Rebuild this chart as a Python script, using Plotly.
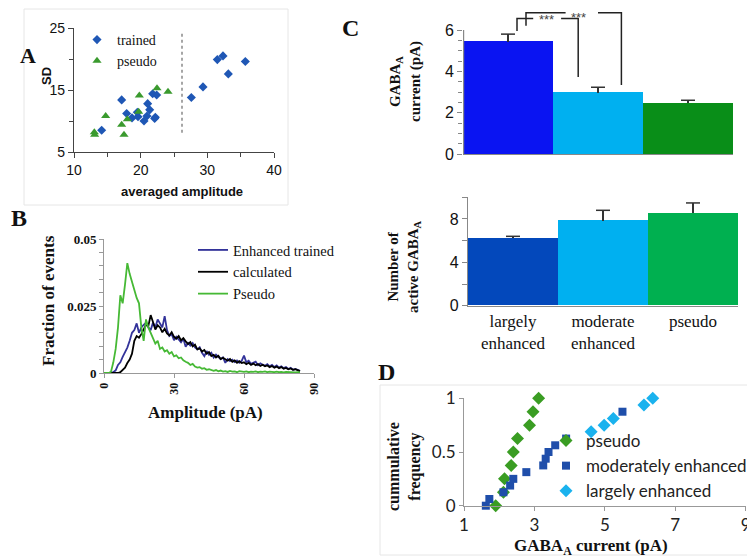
import plotly.graph_objects as go

W, H = 755, 560
PAGE_OFFSET = 8  # the page body adds an 8px margin around the figure


def fx(p):
    # reference pixel column -> paper x
    return (p - PAGE_OFFSET) / W


def fy(p):
    # reference pixel row -> paper y
    return 1 - (p - PAGE_OFFSET) / H


SERIF = "Liberation Serif"
ARIAL = "Liberation Sans"
CALIBRI = "Lato"

# ---- panel A: SD vs averaged amplitude ----
trained_amp = [14.15, 17.15, 17.9, 18.7, 19.5, 19.6, 20.5, 21.05, 20.95, 21.35,
               21.8, 22.4, 22.2, 22.1, 27.6, 29.35, 31.5, 32.35, 33.15, 35.7]
trained_sd = [8.5, 13.4, 11.2, 10.5, 11.4, 10.7, 10.0, 12.8, 10.8, 11.8,
              14.4, 14.2, 10.6, 10.4, 13.8, 15.5, 19.9, 20.5, 17.6, 19.6]
pseudo_amp = [13.05, 13.1, 14.75, 17.15, 17.5, 18.0, 19.8, 19.7, 22.45, 24.1]
pseudo_sd = [8.2, 7.8, 10.8, 9.4, 7.8, 10.3, 14.1, 11.5, 15.3, 14.7]
cutoff_amp = 26.2
cutoff_sd = [8.1, 24.5]

# ---- panel B: amplitude histograms (1 pA bins) ----
amplitude = list(range(85))
enhanced_trained = [0, 0, 0, 0, 0.0003, 0.001, 0.003, 0.004, 0.006, 0.0075,
                    0.0095, 0.012, 0.015, 0.016, 0.0185, 0.015, 0.017, 0.018, 0.0188, 0.017,
                    0.016, 0.0188, 0.017, 0.020, 0.0185, 0.017, 0.0212, 0.016, 0.0138, 0.0145,
                    0.0122, 0.0135, 0.0125, 0.0115, 0.0128, 0.0098, 0.0112, 0.0102, 0.0112, 0.0095,
                    0.0088, 0.0096, 0.0075, 0.0063, 0.0082, 0.0068, 0.0076, 0.0058, 0.0069, 0.0062,
                    0.0052, 0.0058, 0.0038, 0.0052, 0.0044, 0.0050, 0.0041, 0.0047, 0.0038, 0.0045,
                    0.0065, 0.0040, 0.0046, 0.0034, 0.0038, 0.0042, 0.0029, 0.0036, 0.0031, 0.0027,
                    0.0033, 0.0025, 0.0030, 0.0022, 0.0028, 0.0020, 0.0025, 0.0018, 0.0022, 0.0015,
                    0.0019, 0.0012, 0.0015, 0.0010, 0.0008]
calculated = [0, 0, 0, 0, 0, 0, 0, 0.0003, 0.001, 0.002,
              0.0037, 0.005, 0.0072, 0.012, 0.0138, 0.0132, 0.0145, 0.016, 0.018, 0.0175,
              0.0216, 0.019, 0.0162, 0.0178, 0.0170, 0.0152, 0.0165, 0.0148, 0.0140, 0.0152,
              0.0135, 0.0128, 0.0138, 0.0122, 0.0130, 0.0118, 0.0108, 0.0115, 0.0099, 0.0106,
              0.0088, 0.0092, 0.0080, 0.0086, 0.0072, 0.0078, 0.0063, 0.0068, 0.0058, 0.0064,
              0.0052, 0.0057, 0.0050, 0.0046, 0.0052, 0.0042, 0.0047, 0.0038, 0.0044, 0.0037,
              0.0040, 0.0033, 0.0038, 0.0030, 0.0035, 0.0029, 0.0033, 0.0026, 0.0031, 0.0025,
              0.0028, 0.0022, 0.0026, 0.0020, 0.0024, 0.0018, 0.0022, 0.0016, 0.0019, 0.0014,
              0.0017, 0.0012, 0.0014, 0.0009, 0.0007]
pseudo_hist = [0, 0, 0, 0.0005, 0.004, 0.009, 0.017, 0.029, 0.026, 0.033,
               0.041, 0.037, 0.034, 0.031, 0.028, 0.026, 0.017, 0.012, 0.020, 0.017,
               0.015, 0.013, 0.011, 0.012, 0.009, 0.0095, 0.008, 0.0085, 0.0072, 0.0078,
               0.0062, 0.0066, 0.0055, 0.0058, 0.0047, 0.0042, 0.0038, 0.003, 0.0034, 0.0024,
               0.002, 0.0022, 0.0016, 0.0018, 0.0012, 0.0014, 0.001, 0.0008, 0.0011, 0.0006,
               0.0009, 0.0005, 0.0007, 0.0004, 0.0008, 0.0005, 0.0006, 0.0003, 0.0007, 0.0005,
               0.0004, 0.0006, 0.0003, 0.0005, 0.0004, 0.0006, 0.0003, 0.0005, 0.0004, 0.0006,
               0.0003, 0.0005, 0.0004, 0.0003, 0.0005, 0.0003, 0.0004, 0.0002, 0.0004, 0.0003,
               0.0002, 0.0003, 0.0002, 0.0003, 0.0002]

# ---- panel C: bars ----
groups = ["largely<br>enhanced", "moderate<br>enhanced", "pseudo"]
group_pos = [0, 1, 2]
current_mean = [5.43, 2.97, 2.47]
current_err = [0.37, 0.26, 0.13]
active_mean = [6.24, 7.84, 8.55]
active_err = [0.16, 0.96, 0.93]
current_colors = ["#0a14f2", "#00b0f0", "#098e18"]
active_colors = ["#0348bb", "#00b0f0", "#00b050"]

# significance brackets (bar units / pA)
inner_left_x = [0.1, 0.1, 0.28]
inner_left_y = [5.95, 6.56, 6.56]
inner_right_x = [0.59, 0.78, 0.78]
inner_right_y = [6.56, 6.56, 3.73]
inner_star = (0.43, 6.52)
outer_left_x = [0.2, 0.2, 0.64]
outer_left_y = [6.2, 6.84, 6.84]
outer_right_x = [1.0, 1.26, 1.26]
outer_right_y = [6.84, 6.84, 3.34]
outer_star = (0.78, 7.05)

# ---- panel D: cumulative frequency ----
pseudo_cur = [1.90, 2.12, 2.15, 2.34, 2.40, 2.52, 2.86, 2.96, 3.12]
pseudo_cum = [0, 0.125, 0.25, 0.375, 0.5, 0.625, 0.75, 0.875, 1.0]
moderate_cur = [1.62, 1.72, 2.12, 2.31, 2.40, 2.77, 3.25, 3.32, 3.40, 3.59, 3.90, 5.50]
moderate_cum = [0, 0.0625, 0.125, 0.1875, 0.25, 0.3125, 0.375, 0.4375, 0.5, 0.5625, 0.625, 0.875]
large_cur = [4.61, 4.98, 5.24, 6.11, 6.36]
large_cum = [0.6875, 0.75, 0.8125, 0.9375, 1.0]

fig = go.Figure()

# A
fig.add_trace(go.Scatter(x=trained_amp, y=trained_sd, mode="markers", name="trained",
                         marker=dict(symbol="diamond", size=7, color="#1f57b5"),
                         xaxis="x", yaxis="y", legend="legend"))
fig.add_trace(go.Scatter(x=pseudo_amp, y=pseudo_sd, mode="markers", name="pseudo",
                         marker=dict(symbol="triangle-up", size=8, color="#3a9a2e"),
                         xaxis="x", yaxis="y", legend="legend"))
fig.add_trace(go.Scatter(x=[cutoff_amp, cutoff_amp], y=cutoff_sd, mode="lines",
                         line=dict(color="#777777", width=1.3, dash="dot"),
                         showlegend=False, xaxis="x", yaxis="y"))

# B
for name, vals, col in [("Enhanced trained", enhanced_trained, "#33339a"),
                        ("calculated", calculated, "#000000"),
                        ("Pseudo", pseudo_hist, "#46b935")]:
    fig.add_trace(go.Scatter(x=amplitude, y=vals, mode="lines", name=name,
                             line=dict(color=col, width=1.8),
                             xaxis="x2", yaxis="y2", legend="legend2"))


def bars_with_caps(means, errs, colors, xa, ya):
    # bar + upward-only error stem, cap drawn as a marker at mean + err
    fig.add_trace(go.Bar(x=group_pos, y=means, marker=dict(color=colors, line=dict(width=0)),
                         error_y=dict(type="data", symmetric=False, array=errs,
                                      arrayminus=[0] * len(errs), color="#333333",
                                      thickness=1.5, width=0),
                         showlegend=False, xaxis=xa, yaxis=ya))
    fig.add_trace(go.Scatter(x=group_pos, y=[m + e for m, e in zip(means, errs)], mode="markers",
                             marker=dict(symbol="line-ew", size=10,
                                         line=dict(color="#333333", width=1.5)),
                             showlegend=False, xaxis=xa, yaxis=ya, cliponaxis=False))


# C top
bars_with_caps(current_mean, current_err, current_colors, "x3", "y3")
for bx, by in [(inner_left_x, inner_left_y), (inner_right_x, inner_right_y),
               (outer_left_x, outer_left_y), (outer_right_x, outer_right_y)]:
    fig.add_trace(go.Scatter(x=bx, y=by, mode="lines", line=dict(color="#222222", width=1.5),
                             showlegend=False, xaxis="x3", yaxis="y3"))
fig.add_trace(go.Scatter(x=[-0.5, -0.5], y=[0, 6], mode="lines", line=dict(color="#888888", width=2.4),
                         showlegend=False, xaxis="x3", yaxis="y3"))

# C bottom
bars_with_caps(active_mean, active_err, active_colors, "x4", "y4")

# D
fig.add_trace(go.Scatter(x=pseudo_cur, y=pseudo_cum, mode="markers", name="pseudo",
                         marker=dict(symbol="diamond", size=10, color="#3a9d23"), cliponaxis=False,
                         xaxis="x5", yaxis="y5", legend="legend3"))
fig.add_trace(go.Scatter(x=moderate_cur, y=moderate_cum, mode="markers", name="moderately enhanced",
                         marker=dict(symbol="square", size=8, color="#1f4eaa"), cliponaxis=False,
                         xaxis="x5", yaxis="y5", legend="legend3"))
fig.add_trace(go.Scatter(x=large_cur, y=large_cum, mode="markers", name="largely enhanced",
                         marker=dict(symbol="diamond", size=10, color="#1ab2ee"), cliponaxis=False,
                         xaxis="x5", yaxis="y5", legend="legend3"))

ctop_px_per = 124 / 6
ctop_range = [0, 7.05]

ax_a = dict(showline=True, linecolor="#444444", linewidth=1.2, ticks="outside", ticklen=5,
            tickcolor="#444444", showgrid=False, zeroline=False,
            tickfont=dict(family=ARIAL, size=14, color="#111111"))

fig.update_layout(
    width=W, height=H, autosize=False,
    margin=dict(l=0, r=0, t=0, b=0, autoexpand=False),
    paper_bgcolor="white", plot_bgcolor="white",
    bargap=0,
    xaxis=dict(ax_a, domain=[fx(74), fx(274)], range=[10, 40], tickvals=[10, 20, 30, 40],
               minor=dict(dtick=5, ticks="outside", ticklen=4, tickcolor="#444444"), anchor="y"),
    yaxis=dict(ax_a, domain=[fy(152), fy(28)], range=[5, 25], tickvals=[5, 15, 25],
               minor=dict(dtick=5, ticks="outside", ticklen=4, tickcolor="#444444"), anchor="x"),
    xaxis2=dict(domain=[fx(104), fx(314)], range=[0, 90], tickvals=[0, 30, 60, 90], tickangle=-90,
                showline=True, linecolor="#999999", linewidth=1, ticks="outside", ticklen=4,
                tickcolor="#999999", showgrid=False, zeroline=False, anchor="y2",
                tickfont=dict(family=SERIF, size=12, weight="bold", color="#111111")),
    yaxis2=dict(domain=[fy(373), fy(239)], range=[0, 0.05], tickvals=[0, 0.025, 0.05],
                ticktext=["0", "0.025", "0.05"],
                showline=True, linecolor="#999999", linewidth=1, ticks="outside", ticklen=4,
                tickcolor="#999999", showgrid=False, zeroline=False, anchor="x2",
                minor=dict(dtick=0.005, ticks="outside", ticklen=4, tickcolor="#999999"),
                tickfont=dict(family=SERIF, size=13, weight="bold", color="#111111")),
    xaxis3=dict(domain=[fx(463), fx(733)], range=[-0.5, 2.5], showticklabels=False,
                showline=True, linecolor="#888888", linewidth=1.2, ticks="", showgrid=False,
                zeroline=False, anchor="y3"),
    yaxis3=dict(domain=[fy(154), min(1.0, fy(154 - ctop_range[1] * ctop_px_per))], range=ctop_range,
                tickvals=[0, 2, 4, 6], showline=False, ticks="outside", ticklen=5,
                tickcolor="#888888", showgrid=False, zeroline=False, anchor="x3",
                minor=dict(tickvals=[0.5, 1, 1.5, 2.5, 3, 3.5, 4.5, 5, 5.5], ticks="outside",
                           ticklen=4, tickcolor="#888888"),
                tickfont=dict(family=ARIAL, size=16, color="#111111")),
    xaxis4=dict(domain=[fx(468), fx(738)], range=[-0.5, 2.5], tickvals=group_pos, ticktext=groups,
                showline=True, linecolor="#888888", linewidth=1.2, ticks="", showgrid=False,
                zeroline=False, anchor="y4",
                tickfont=dict(family=SERIF, size=17, color="#111111")),
    yaxis4=dict(domain=[fy(305.7), fy(197.3)], range=[0, 10], tickvals=[0, 4, 8],
                showline=True, linecolor="#888888", linewidth=1.2, ticks="outside", ticklen=5,
                tickcolor="#888888", showgrid=False, zeroline=False, anchor="x4",
                minor=dict(dtick=2, ticks="outside", ticklen=5, tickcolor="#888888"),
                tickfont=dict(family=ARIAL, size=16, color="#111111")),
    xaxis5=dict(domain=[fx(464), fx(745.7)], range=[1, 9], tickvals=[1, 3, 5, 7, 9],
                showline=True, linecolor="#999999", linewidth=1.2, ticks="outside", ticklen=4,
                tickcolor="#999999", showgrid=False, zeroline=False, anchor="y5",
                tickfont=dict(family=CALIBRI, size=17, color="#222222")),
    yaxis5=dict(domain=[fy(505.7), fy(398.3)], range=[0, 1], tickvals=[0, 0.5, 1],
                showline=True, linecolor="#999999", linewidth=1.2, ticks="outside", ticklen=4,
                tickcolor="#999999", showgrid=False, zeroline=False, anchor="x5",
                tickfont=dict(family=CALIBRI, size=17, color="#222222")),
    legend=dict(x=fx(77), y=fy(24), xanchor="left", yanchor="top", bgcolor="rgba(0,0,0,0)",
                font=dict(family=SERIF, size=14, color="#111111"), tracegroupgap=0),
    legend2=dict(x=fx(193), y=fy(234), xanchor="left", yanchor="top", bgcolor="rgba(0,0,0,0)",
                 font=dict(family=SERIF, size=14.5, color="#111111")),
    legend3=dict(x=fx(546), y=fy(423), xanchor="left", yanchor="top", bgcolor="rgba(0,0,0,0)",
                 font=dict(family=CALIBRI, size=17, color="#222222")),
    showlegend=True,
)

# panel frames
fig.add_shape(type="rect", xref="paper", yref="paper", x0=fx(24), x1=fx(288), y0=fy(205), y1=fy(9),
              line=dict(color="#e6e6e6", width=1), layer="below")
fig.add_shape(type="rect", xref="paper", yref="paper", x0=fx(380), x1=fx(754), y0=fy(555), y1=fy(385),
              line=dict(color="#e6e6e6", width=1), layer="below")


def note(text, x, y, size, family=SERIF, angle=0, color="#111111"):
    fig.add_annotation(text=text, x=fx(x), y=fy(y), xref="paper", yref="paper", showarrow=False,
                       xanchor="center", yanchor="middle", textangle=angle,
                       font=dict(family=family, size=size, color=color))


note("<b>A</b>", 28, 55, 22)
note("<b>B</b>", 19, 218, 24)
note("<b>C</b>", 350, 28, 24)
note("<b>D</b>", 386, 372, 24)
note("<b>SD</b>", 46, 76, 13, family=ARIAL, angle=-90)
note("<b>averaged amplitude</b>", 182, 192, 13, family=ARIAL)
note("<b>Fraction of events</b>", 48, 301, 17, angle=-90)
note("<b>Amplitude (pA)</b>", 206, 412, 17)
note("<b>GABA<sub>A</sub><br>current (pA)</b>", 406, 82, 15, angle=-90)
note("<b>Number of<br>active GABA<sub>A</sub></b>", 404, 266, 15, angle=-90)
note("<b>cummulative<br>frequency</b>", 404, 466, 16, angle=-90)
note("<b>GABA<sub>A</sub> current (pA)</b>", 591, 547, 17)

for (sx, sy), anchor in [(inner_star, "middle"), (outer_star, "top")]:
    fig.add_annotation(text="***", x=sx, y=sy, xref="x3", yref="y3", showarrow=False,
                       xanchor="center", yanchor=anchor,
                       font=dict(family=ARIAL, size=13, color="#444444"))

fig.write_html("out.html")
